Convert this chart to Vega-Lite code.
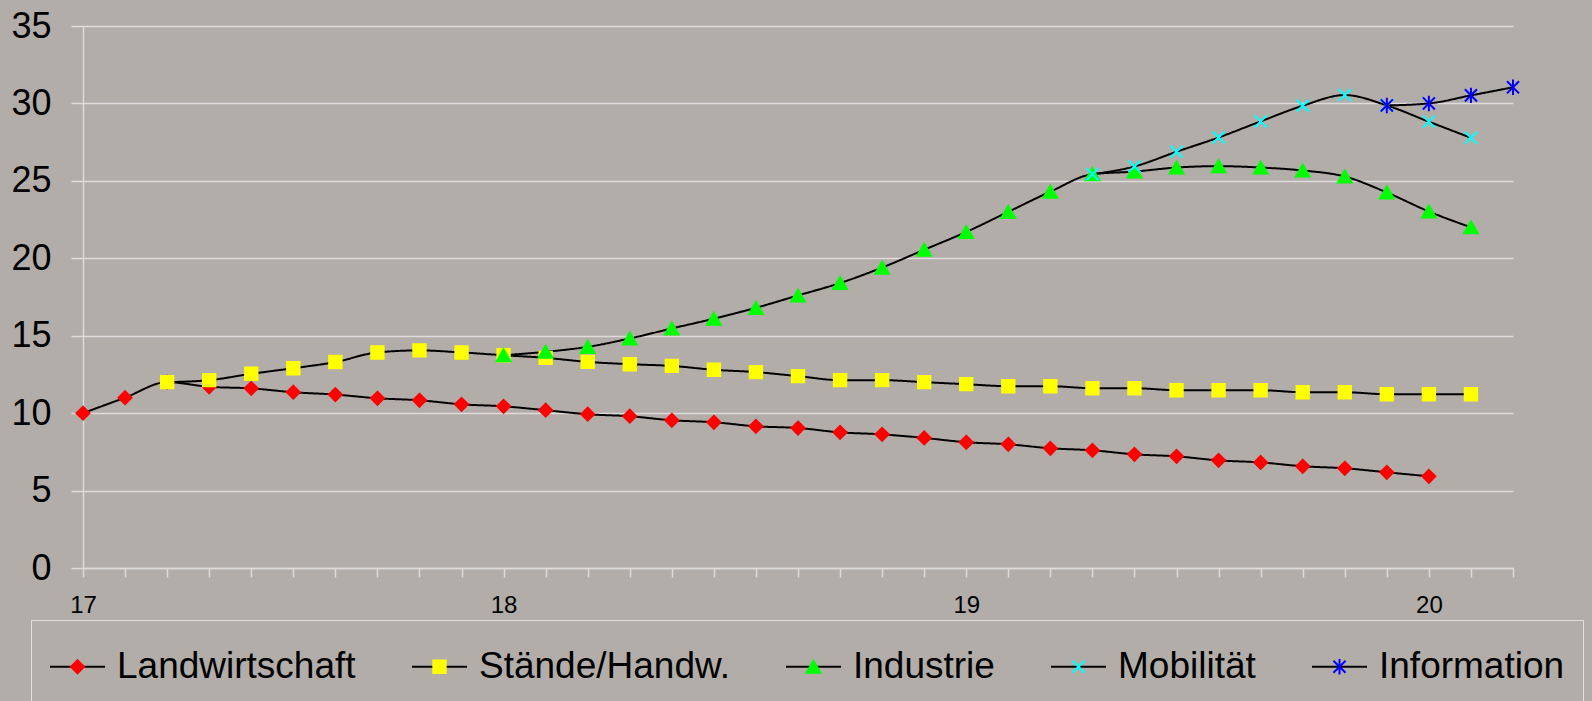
{
  "$schema": "https://vega.github.io/schema/vega-lite/v6.json",
  "width": 1430,
  "height": 542,
  "autosize": {"type": "none"},
  "padding": {"left": 83, "top": 26, "right": 79, "bottom": 133},
  "background": "#B2ADA9",
  "config": {
    "view": {"stroke": null},
    "font": "Liberation Sans"
  },
  "data": {
    "values": [
      {"s": "Landwirtschaft", "i": 0, "v": 10},
      {"s": "Landwirtschaft", "i": 1, "v": 11},
      {"s": "Landwirtschaft", "i": 2, "v": 12},
      {"s": "Landwirtschaft", "i": 3, "v": 11.7},
      {"s": "Landwirtschaft", "i": 4, "v": 11.6},
      {"s": "Landwirtschaft", "i": 5, "v": 11.35},
      {"s": "Landwirtschaft", "i": 6, "v": 11.2},
      {"s": "Landwirtschaft", "i": 7, "v": 10.96},
      {"s": "Landwirtschaft", "i": 8, "v": 10.83},
      {"s": "Landwirtschaft", "i": 9, "v": 10.57},
      {"s": "Landwirtschaft", "i": 10, "v": 10.44},
      {"s": "Landwirtschaft", "i": 11, "v": 10.19},
      {"s": "Landwirtschaft", "i": 12, "v": 9.93},
      {"s": "Landwirtschaft", "i": 13, "v": 9.8},
      {"s": "Landwirtschaft", "i": 14, "v": 9.54},
      {"s": "Landwirtschaft", "i": 15, "v": 9.41},
      {"s": "Landwirtschaft", "i": 16, "v": 9.15},
      {"s": "Landwirtschaft", "i": 17, "v": 9.04},
      {"s": "Landwirtschaft", "i": 18, "v": 8.76},
      {"s": "Landwirtschaft", "i": 19, "v": 8.63},
      {"s": "Landwirtschaft", "i": 20, "v": 8.4},
      {"s": "Landwirtschaft", "i": 21, "v": 8.12},
      {"s": "Landwirtschaft", "i": 22, "v": 7.99},
      {"s": "Landwirtschaft", "i": 23, "v": 7.73},
      {"s": "Landwirtschaft", "i": 24, "v": 7.6},
      {"s": "Landwirtschaft", "i": 25, "v": 7.34},
      {"s": "Landwirtschaft", "i": 26, "v": 7.21},
      {"s": "Landwirtschaft", "i": 27, "v": 6.95},
      {"s": "Landwirtschaft", "i": 28, "v": 6.82},
      {"s": "Landwirtschaft", "i": 29, "v": 6.57},
      {"s": "Landwirtschaft", "i": 30, "v": 6.44},
      {"s": "Landwirtschaft", "i": 31, "v": 6.18},
      {"s": "Landwirtschaft", "i": 32, "v": 5.92},
      {"s": "Stände/Handw.", "i": 2, "v": 12},
      {"s": "Stände/Handw.", "i": 3, "v": 12.13},
      {"s": "Stände/Handw.", "i": 4, "v": 12.54},
      {"s": "Stände/Handw.", "i": 5, "v": 12.9},
      {"s": "Stände/Handw.", "i": 6, "v": 13.3},
      {"s": "Stände/Handw.", "i": 7, "v": 13.92},
      {"s": "Stände/Handw.", "i": 8, "v": 14.05},
      {"s": "Stände/Handw.", "i": 9, "v": 13.92},
      {"s": "Stände/Handw.", "i": 10, "v": 13.74},
      {"s": "Stände/Handw.", "i": 11, "v": 13.57},
      {"s": "Stände/Handw.", "i": 12, "v": 13.31},
      {"s": "Stände/Handw.", "i": 13, "v": 13.16},
      {"s": "Stände/Handw.", "i": 14, "v": 13.05},
      {"s": "Stände/Handw.", "i": 15, "v": 12.8},
      {"s": "Stände/Handw.", "i": 16, "v": 12.65},
      {"s": "Stände/Handw.", "i": 17, "v": 12.39},
      {"s": "Stände/Handw.", "i": 18, "v": 12.13},
      {"s": "Stände/Handw.", "i": 19, "v": 12.13},
      {"s": "Stände/Handw.", "i": 20, "v": 12.0},
      {"s": "Stände/Handw.", "i": 21, "v": 11.87},
      {"s": "Stände/Handw.", "i": 22, "v": 11.74},
      {"s": "Stände/Handw.", "i": 23, "v": 11.74},
      {"s": "Stände/Handw.", "i": 24, "v": 11.61},
      {"s": "Stände/Handw.", "i": 25, "v": 11.61},
      {"s": "Stände/Handw.", "i": 26, "v": 11.48},
      {"s": "Stände/Handw.", "i": 27, "v": 11.48},
      {"s": "Stände/Handw.", "i": 28, "v": 11.48},
      {"s": "Stände/Handw.", "i": 29, "v": 11.35},
      {"s": "Stände/Handw.", "i": 30, "v": 11.35},
      {"s": "Stände/Handw.", "i": 31, "v": 11.22},
      {"s": "Stände/Handw.", "i": 32, "v": 11.22},
      {"s": "Stände/Handw.", "i": 33, "v": 11.22},
      {"s": "Industrie", "i": 10, "v": 13.74},
      {"s": "Industrie", "i": 11, "v": 13.96},
      {"s": "Industrie", "i": 12, "v": 14.28},
      {"s": "Industrie", "i": 13, "v": 14.82},
      {"s": "Industrie", "i": 14, "v": 15.47},
      {"s": "Industrie", "i": 15, "v": 16.1},
      {"s": "Industrie", "i": 16, "v": 16.8},
      {"s": "Industrie", "i": 17, "v": 17.6},
      {"s": "Industrie", "i": 18, "v": 18.4},
      {"s": "Industrie", "i": 19, "v": 19.4},
      {"s": "Industrie", "i": 20, "v": 20.55},
      {"s": "Industrie", "i": 21, "v": 21.7},
      {"s": "Industrie", "i": 22, "v": 23.0},
      {"s": "Industrie", "i": 23, "v": 24.3},
      {"s": "Industrie", "i": 24, "v": 25.43},
      {"s": "Industrie", "i": 25, "v": 25.6},
      {"s": "Industrie", "i": 26, "v": 25.86},
      {"s": "Industrie", "i": 27, "v": 25.95},
      {"s": "Industrie", "i": 28, "v": 25.86},
      {"s": "Industrie", "i": 29, "v": 25.67},
      {"s": "Industrie", "i": 30, "v": 25.28},
      {"s": "Industrie", "i": 31, "v": 24.25},
      {"s": "Industrie", "i": 32, "v": 23.02},
      {"s": "Industrie", "i": 33, "v": 22.0},
      {"s": "Mobilität", "i": 24, "v": 25.43},
      {"s": "Mobilität", "i": 25, "v": 25.93},
      {"s": "Mobilität", "i": 26, "v": 26.88},
      {"s": "Mobilität", "i": 27, "v": 27.8},
      {"s": "Mobilität", "i": 28, "v": 28.84},
      {"s": "Mobilität", "i": 29, "v": 29.85},
      {"s": "Mobilität", "i": 30, "v": 30.54},
      {"s": "Mobilität", "i": 31, "v": 29.87},
      {"s": "Mobilität", "i": 32, "v": 28.82},
      {"s": "Mobilität", "i": 33, "v": 27.78},
      {"s": "Information", "i": 31, "v": 29.87},
      {"s": "Information", "i": 32, "v": 30.0},
      {"s": "Information", "i": 33, "v": 30.52},
      {"s": "Information", "i": 34, "v": 31.04}
    ]
  },
  "encoding": {
    "x": {
      "field": "i",
      "type": "quantitative",
      "scale": {"domain": [0, 34], "nice": false, "zero": false},
      "axis": {
        "title": null,
        "grid": false,
        "values": [0,1,2,3,4,5,6,7,8,9,10,11,12,13,14,15,16,17,18,19,20,21,22,23,24,25,26,27,28,29,30,31,32,33,34],
        "labelExpr": "datum.value==0?'17':datum.value==10?'18':datum.value==21?'19':datum.value==32?'20':''",
        "labelFont": "Liberation Sans",
        "labelFontSize": 24,
        "labelColor": "#000000",
        "labelPadding": 16,
        "labelFlush": false,
        "labelOverlap": false,
        "labelBound": false,
        "tickSize": 9,
        "tickWidth": 1.5,
        "tickColor": "#DEDCDA",
        "domainColor": "#DEDCDA",
        "domainWidth": 1.5
      }
    },
    "y": {
      "field": "v",
      "type": "quantitative",
      "scale": {"domain": [0, 35], "nice": false},
      "axis": {
        "title": null,
        "values": [0, 5, 10, 15, 20, 25, 30, 35],
        "labelFont": "Liberation Sans",
        "labelFontSize": 36,
        "labelColor": "#000000",
        "labelPadding": 20,
        "tickSize": 12,
        "tickWidth": 1.5,
        "tickColor": "#DEDCDA",
        "domainColor": "#DEDCDA",
        "domainWidth": 1.5,
        "grid": true,
        "gridColor": "#DEDCDA",
        "gridWidth": 1.5
      }
    }
  },
  "layer": [
    {
      "mark": {"type": "line", "color": "#000000", "strokeWidth": 2, "interpolate": "monotone"},
      "encoding": {
        "strokeDash": {
          "field": "s",
          "type": "nominal",
          "sort": ["Landwirtschaft", "Stände/Handw.", "Industrie", "Mobilität", "Information"],
          "scale": {"range": [[1, 0], [1, 0], [1, 0], [1, 0], [1, 0]]},
          "legend": {
            "orient": "none", "legendX": -52, "legendY": 594,
            "direction": "horizontal", "columns": 5, "title": null,
            "symbolType": "stroke", "symbolSize": 3025,
            "symbolStrokeColor": "#000000", "symbolStrokeWidth": 2,
            "labelFont": "Liberation Sans", "labelFontSize": 37, "labelLimit": 500,
            "labelOffset": 11, "labelOpacity": 0, "columnPadding": 52, "padding": 18,
            "strokeColor": "#E2E0DE", "zindex": 0
          }
        }
      }
    },
    {
      "mark": {"type": "point", "filled": true, "opacity": 1, "strokeWidth": 2, "size": 3025},
      "encoding": {
        "fill": {
          "field": "s", "type": "nominal",
          "scale": {"domain": ["Landwirtschaft", "Stände/Handw.", "Industrie", "Mobilität", "Information"],
                    "range": ["#FF0000", "#FFFF00", "#00FF00", "#00FFFF", "#0000FF"]},
          "legend": {
            "orient": "none", "legendX": -52, "legendY": 594,
            "direction": "horizontal", "columns": 5, "title": null,
            "symbolSize": 3025, "symbolStrokeWidth": 2,
            "labelFont": "Liberation Sans", "labelFontSize": 37, "labelLimit": 500, "labelColor": "#000000",
            "labelOffset": 11, "columnPadding": 52, "padding": 18, "zindex": 1
          }
        },
        "stroke": {
          "field": "s", "type": "nominal",
          "scale": {"domain": ["Landwirtschaft", "Stände/Handw.", "Industrie", "Mobilität", "Information"],
                    "range": ["#FF0000", "#FFFF00", "#00FF00", "#00FFFF", "#0000FF"]},
          "legend": {
            "orient": "none", "legendX": -52, "legendY": 594,
            "direction": "horizontal", "columns": 5, "title": null,
            "symbolSize": 3025, "symbolStrokeWidth": 2,
            "labelFont": "Liberation Sans", "labelFontSize": 37, "labelLimit": 500, "labelColor": "#000000",
            "labelOffset": 11, "columnPadding": 52, "padding": 18, "zindex": 1
          }
        },
        "shape": {
          "field": "s", "type": "nominal",
          "scale": {"domain": ["Landwirtschaft", "Stände/Handw.", "Industrie", "Mobilität", "Information"],
                    "range": [
                      "M-1,0M1,0M0,-0.235L0.235,0L0,0.235L-0.235,0Z",
                      "M-1,0M1,0M-0.225,-0.225L0.225,-0.225L0.225,0.225L-0.225,0.225Z",
                      "M-1,0M1,0M0,-0.22L0.25,0.22L-0.25,0.22Z",
                      "M-1,0M1,0M-0.22,-0.22L0.22,0.22M-0.22,0.22L0.22,-0.22",
                      "M-1,0M1,0M-0.22,-0.22L0.22,0.22M-0.22,0.22L0.22,-0.22M0,-0.28L0,0.28"
                    ]},
          "legend": {
            "orient": "none", "legendX": -52, "legendY": 594,
            "direction": "horizontal", "columns": 5, "title": null,
            "symbolSize": 3025, "symbolStrokeWidth": 2,
            "labelFont": "Liberation Sans", "labelFontSize": 37, "labelLimit": 500, "labelColor": "#000000",
            "labelOffset": 11, "columnPadding": 52, "padding": 18, "zindex": 1
          }
        }
      }
    }
  ]
}
